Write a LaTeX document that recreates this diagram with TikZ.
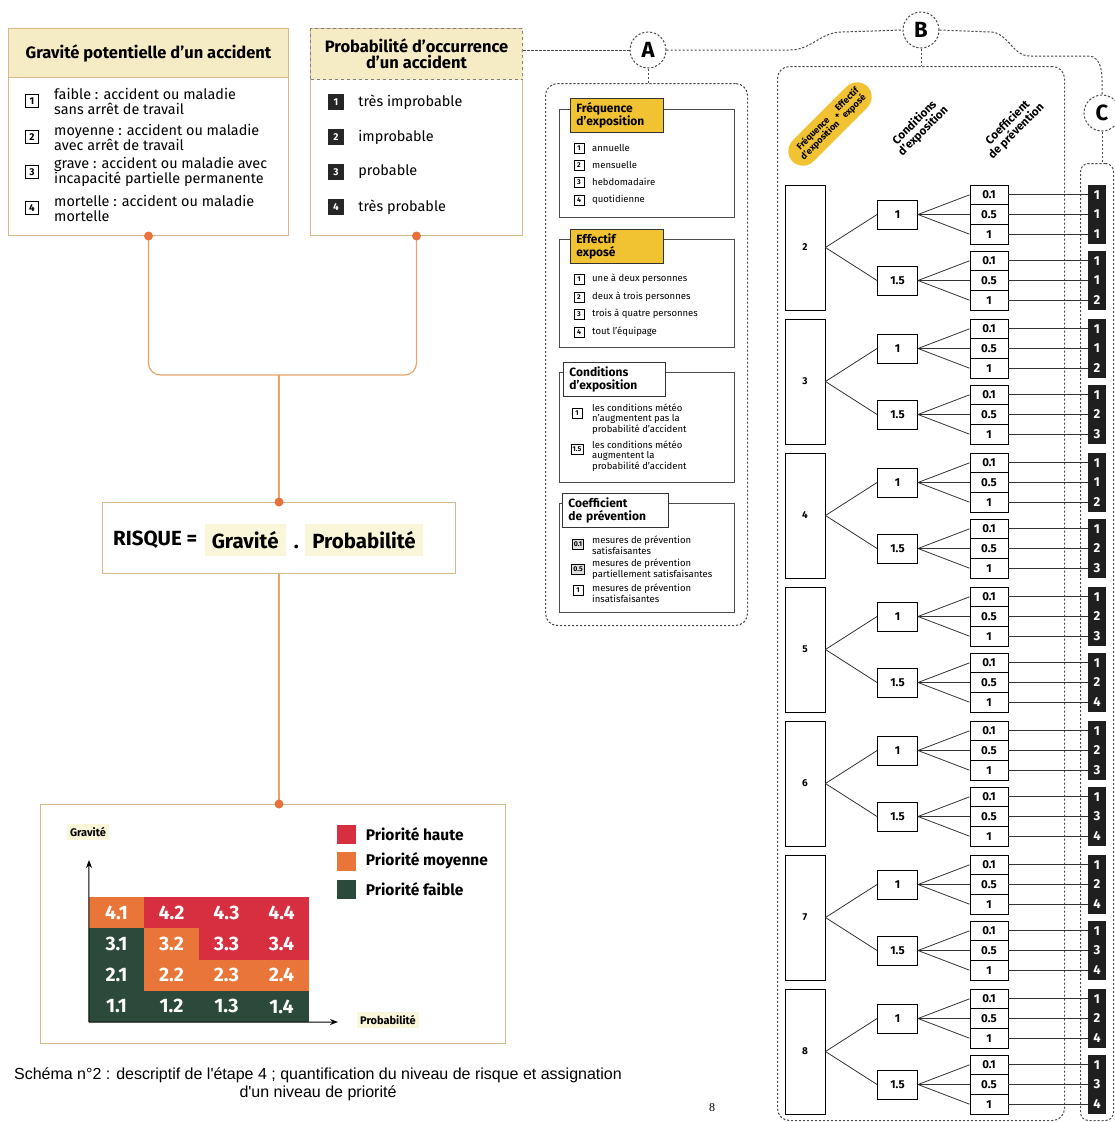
\documentclass[tikz,border=0pt]{standalone}
\usepackage{fontspec}
\setmainfont{Fira Sans}
\newfontfamily\capfont{Liberation Sans}
\newfontfamily\pagefont{Liberation Serif}
\usetikzlibrary{positioning,arrows.meta,calc}

\definecolor{tanline}{HTML}{D8BA8A}
\definecolor{hdrfill}{HTML}{F5ECC6}
\definecolor{hlfill}{HTML}{FAF6DA}
\definecolor{linkor}{HTML}{E9A36A}
\definecolor{dotor}{HTML}{E8733A}
\definecolor{tabyel}{HTML}{F1C232}
\definecolor{prioH}{HTML}{D72E40}
\definecolor{prioM}{HTML}{E97638}
\definecolor{prioL}{HTML}{2B4A3C}
\definecolor{dashgr}{HTML}{4A4A4A}

\begin{document}
\begin{tikzpicture}[
  x=1pt, y=-1pt,
  every node/.style={inner sep=0pt},
  card/.style={draw=tanline, line width=1pt, anchor=north west},
  cardhd/.style={card, fill=hdrfill, align=center, font=\bfseries\fontsize{16.5}{16}\selectfont},
  numw/.style={draw, line width=1pt, minimum size=13pt, font=\bfseries\fontsize{10}{10}\selectfont},
  numb/.style={fill=black!85, text=white, minimum size=16pt, font=\bfseries\fontsize{10}{10}\selectfont},
  itemtxt/.style={anchor=west, align=left, font=\fontsize{14.4}{15}\selectfont},
  link/.style={linkor, line width=1.2pt},
  hl/.style={fill=hlfill, inner xsep=7pt, inner ysep=7pt},
  cell/.style={minimum width=55pt, minimum height=31.25pt, text=white, font=\bfseries\fontsize{19.5}{19.5}\selectfont},
  leg/.style={minimum size=19pt},
  legtxt/.style={anchor=west, font=\bfseries\fontsize{15.5}{15.5}\selectfont},
  dsh/.style={dashgr, line width=1pt, dash pattern=on 2.2pt off 1.8pt},
  tag/.style={circle, dsh, draw, minimum size=36pt, text=black, font=\bfseries\fontsize{22}{22}\selectfont},
  panel/.style={draw, dsh, rounded corners=12pt, anchor=north west},
  abox/.style={draw=black!70, line width=0.8pt, anchor=north west, minimum width=175pt},
  atab/.style={draw=black!80, line width=0.8pt, anchor=north west, text width=#1, inner xsep=6pt, minimum height=34pt, align=left, font=\bfseries\fontsize{12}{12.5}\selectfont},
  atab/.default=81pt,
  anum/.style={draw, line width=0.6pt, minimum size=10pt, inner xsep=1.5pt, font=\bfseries\fontsize{7}{7}\selectfont},
  atxt/.style={anchor=west, align=left, font=\fontsize{9.5}{10.5}\selectfont},
  rothd/.style={rotate=45, align=center, font=\bfseries\fontsize{11.5}{12}\selectfont},
  blk/.style={draw, line width=0.9pt, minimum width=40pt, minimum height=125pt, font=\bfseries\fontsize{10}{10}\selectfont},
  cnd/.style={draw, line width=0.9pt, minimum width=40pt, minimum height=29pt, font=\bfseries\fontsize{11.5}{11.5}\selectfont},
  cof/.style={draw, line width=0.9pt, minimum width=38pt, minimum height=19.7pt, font=\bfseries\fontsize{11.5}{11.5}\selectfont},
  res/.style={fill=black!88, text=white, minimum width=18pt, minimum height=19.7pt, font=\bfseries\fontsize{13}{13}\selectfont},
  tl/.style={black!80, line width=0.8pt}
]
\useasboundingbox[fill=white] (0,0) rectangle (1115,1122);

% Gravite / Probabilite
\node[card, minimum width=280pt, minimum height=207pt] (grav) at (8,28) {};
\node[cardhd, minimum width=280pt, minimum height=49pt] (gravhd) at (8,28) {Gravité potentielle d'un accident};
\foreach \ii/\yy/\lbl in {1/101/{faible : accident ou maladie\\sans arrêt de travail},
    2/137/{moyenne : accident ou maladie\\avec arrêt de travail},
    3/172/{grave : accident ou maladie avec\\incapacité partielle permanente},
    4/208/{mortelle : accident ou maladie\\mortelle}}{
  \node[numw] (gn\ii) at (32,\yy) {\ii};
  \node[itemtxt, right=15pt of gn\ii] (gt\ii) {\lbl};
}

\node[card, minimum width=212pt, minimum height=207pt] (prob) at (310,28) {};
\node[cardhd, draw=gray, dashed, minimum width=212pt, minimum height=51pt] (probhd) at (310,28) {Probabilité d'occurrence\\d'un accident};
\foreach \ii/\yy/\lbl in {1/102/très improbable, 2/137/improbable, 3/172/probable, 4/207/très probable}{
  \node[numb] (pn\ii) at (336,\yy) {\ii};
  \node[itemtxt, right=14pt of pn\ii] (pt\ii) {\lbl};
}

% RISQUE
\coordinate (jn) at (279,375);
\draw[link, rounded corners=12pt] (grav.south) |- (jn) -| (prob.south);
\node[card, minimum width=353pt, minimum height=71pt] (risk) at (102,502) {};
\draw[link] (jn) -- (jn |- risk.north);
\node[anchor=west, font=\bfseries\fontsize{20.5}{20.5}\selectfont] (rq) at (113,540) {RISQUE =};
\node[hl, right=7pt of rq, font=\bfseries\fontsize{20.5}{20.5}\selectfont] (rg) {Gravité};
\node[right=8pt of rg, font=\bfseries\fontsize{20.5}{20.5}\selectfont] (rdot) {\vphantom{Gé}.};
\node[hl, right=6pt of rdot, font=\bfseries\fontsize{20.5}{20.5}\selectfont] (rp) {Probabilité};

% matrice
\node[card, minimum width=465pt, minimum height=239pt] (mat) at (40,804) {};
\draw[link] (jn |- risk.south) -- (jn |- mat.north);
\fill[dotor] (grav.south) circle (4.5pt) (prob.south) circle (4.5pt)
  (jn |- risk.north) circle (4.5pt) (jn |- mat.north) circle (4.5pt);

\foreach \rr/\cols in {4/{prioM,prioH,prioH,prioH}, 3/{prioL,prioM,prioH,prioH},
    2/{prioL,prioM,prioM,prioM}, 1/{prioL,prioL,prioL,prioL}}{
  \foreach \col [count=\cc] in \cols
    \node[cell, fill=\col] (m\rr\cc) at ({116.5+55*(\cc-1)},{1006.4-31.25*(\rr-1)}) {\rr.\cc};
}
\coordinate (ytop) at (89,860);
\coordinate (xend) at (338,1022);
\draw[line width=1pt, -{Stealth[length=8pt,width=6pt]}] (m11.south west) -- (ytop);
\draw[line width=1pt, -{Stealth[length=8pt,width=6pt]}] (m11.south west) -- (xend);
\node[fill=hlfill, inner sep=3pt, font=\bfseries\fontsize{11}{11}\selectfont] (axg) at (88,832) {Gravité};
\node[fill=hlfill, inner sep=3pt, font=\bfseries\fontsize{11}{11}\selectfont] (axp) at (388,1020) {Probabilité};

\node[leg, fill=prioH] (lgh) at (346,834) {};
\node[leg, fill=prioM] (lgm) at (346,861) {};
\node[leg, fill=prioL] (lgl) at (346,889) {};
\node[legtxt, right=10pt of lgh] {Priorité haute};
\node[legtxt, right=10pt of lgm] {Priorité moyenne};
\node[legtxt, right=10pt of lgl] {Priorité faible};

% Annotations below
\node[align=center, font=\capfont\fontsize{16}{18}\selectfont] (cap) at (318,1084)
  {Schéma n°2 : descriptif de l'étape 4 ; quantification du niveau de risque et assignation\\d'un niveau de priorité};
\node[font=\pagefont\fontsize{12}{12}\selectfont] (pg) at (712,1108) {8};

% A B C
\node[tag] (cA) at (648,50) {A};
\node[tag] (cB) at (921,30) {B};
\node[tag] (cC) at (1102,113) {C};
\coordinate (ab1) at (790,50);
\coordinate (ab2) at (842,32);
\coordinate (bc1) at (990,32);
\coordinate (bc2) at (1030,56);
\coordinate (bc3) at (1088,56);
\draw[dsh] (cA.west) -- (cA.west -| probhd.east);
\draw[dsh] (cA.east) -- (ab1) to[out=0,in=180] (ab2) -- (cB.west);
\draw[dsh] (cB.east) -- (bc1) to[out=0,in=180] (bc2) -- (bc3) to[out=0,in=90] (cC.north);

\node[panel, minimum width=202pt, minimum height=542pt] (panA) at (545,83) {};
\node[panel, minimum width=287pt, minimum height=1054pt] (panB) at (777,66) {};
\node[panel, rounded corners=8pt, minimum width=33pt, minimum height=957pt] (panC) at (1080,163) {};
\draw[dsh] (cA.south) -- (cA.south |- panA.north);
\draw[dsh] (cB.south) -- (cB.south |- panB.north);
\draw[dsh] (cC.south) -- (cC.south |- panC.north);

% panneau A
\node[abox, minimum height=108pt] (fqbox) at (559,109) {};
\node[atab, fill=tabyel] (fqtab) at (570,98) {Fréquence\\d'exposition};
\foreach \ii/\yy/\lbl in {1/148/annuelle, 2/165/mensuelle, 3/182/hebdomadaire, 4/200/quotidienne}{
  \node[anum] (fqn\ii) at (579,\yy) {\ii};
  \node[atxt] (fqt\ii) at (592,\yy) {\lbl};
}
\node[abox, minimum height=108pt] (efbox) at (559,239) {};
\node[atab, fill=tabyel] (eftab) at (570,229) {Effectif\\exposé};
\foreach \ii/\yy/\lbl in {1/279/une à deux personnes, 2/297/deux à trois personnes,
    3/314/trois à quatre personnes, 4/332/tout l'équipage}{
  \node[anum] (efn\ii) at (579,\yy) {\ii};
  \node[atxt] (eft\ii) at (592,\yy) {\lbl};
}
\node[abox, minimum height=110pt] (cdbox) at (559,372) {};
\node[atab=90pt, fill=white] (cdtab) at (563,362) {Conditions\\d'exposition};
\node[anum] (cdn1) at (577,413) {1};
\node[atxt] (cdt1) at (592,419) {les conditions météo\\n'augmentent pas la\\probabilité d'accident};
\node[anum] (cdn2) at (577,449) {1.5};
\node[atxt] (cdt2) at (592,456) {les conditions météo\\augmentent la\\probabilité d'accident};
\node[abox, minimum height=109pt] (cpbox) at (559,503) {};
\node[atab=94pt, fill=white] (cptab) at (562,493) {Coefficient\\de prévention};
\node[anum, fill=black!12] (cpn1) at (578,544) {0.1};
\node[atxt] (cpt1) at (592,545) {mesures de prévention\\satisfaisantes};
\node[anum, fill=black!12] (cpn2) at (578,569) {0.5};
\node[atxt] (cpt2) at (592,569) {mesures de prévention\\partiellement satisfaisantes};
\node[anum] (cpn3) at (578,590) {1};
\node[atxt] (cpt3) at (592,593) {mesures de prévention\\insatisfaisantes};

% panneau B : arbre
\node[rotate=45, fill=tabyel, rounded corners=15pt, inner xsep=9pt, inner ysep=5pt,
  font=\bfseries\fontsize{9}{9.5}\selectfont] (hfe) at (830,124)
  {\renewcommand\arraystretch{0.8}\begin{tabular}{@{}c@{}}Fréquence\\d'exposition\end{tabular}\,+\,\begin{tabular}{@{}c@{}}Effectif\\exposé\end{tabular}};
\node[rothd] (hcd) at (919,127) {Conditions\\d'exposition};
\node[rothd] (hcp) at (1012,127) {Coefficient\\de prévention};

\foreach \kk [count=\n from 0] in {2,...,8}
  \node[blk] (b\kk) at (805,{247.5+134*\n}) {\kk};

\foreach \kk/\br/\cv/\dy/\na/\nb/\nc in {2/a/1/-33/1/1/1, 2/b/1.5/33/1/1/2,
    3/a/1/-33/1/1/2, 3/b/1.5/33/1/2/3, 4/a/1/-33/1/1/2, 4/b/1.5/33/1/2/3,
    5/a/1/-33/1/2/3, 5/b/1.5/33/1/2/4, 6/a/1/-33/1/2/3, 6/b/1.5/33/1/3/4,
    7/a/1/-33/1/2/4, 7/b/1.5/33/1/3/4, 8/a/1/-33/1/2/4, 8/b/1.5/33/1/3/4}{
  \pgfmathsetmacro\yc{247.5+134*(\kk-2)+\dy}
  \node[cnd] (c\kk\br) at (897.5,\yc) {\cv};
  \draw[tl] (b\kk.east) -- (c\kk\br.west);
  \foreach \ii/\cf/\rv in {1/0.1/\na, 2/0.5/\nb, 3/1/\nc}{
    \node[cof] (f\kk\br\ii) at (989,{\yc+19.7*(\ii-2)}) {\cf};
    \node[res] (r\kk\br\ii) at (1097,{\yc+19.7*(\ii-2)}) {\rv};
    \draw[tl] (c\kk\br.east) -- (f\kk\br\ii.west);
    \draw[tl] (f\kk\br\ii.east) -- (r\kk\br\ii.west);
  }
}
\end{tikzpicture}
\end{document}
